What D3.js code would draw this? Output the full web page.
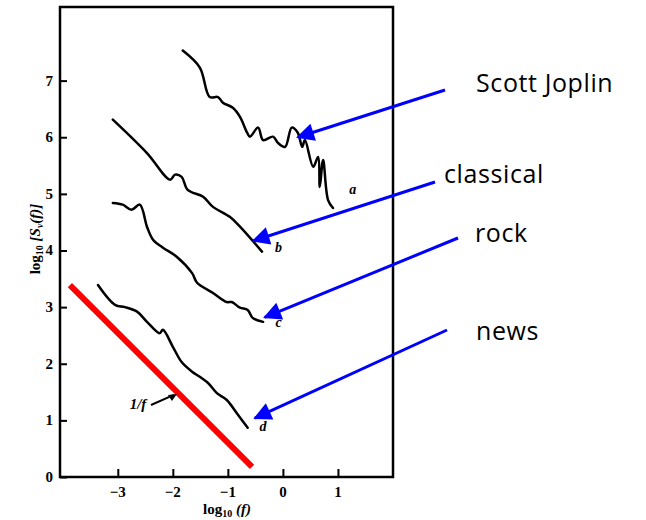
<!DOCTYPE html>
<html>
<head>
<meta charset="utf-8">
<script src="https://cdn.jsdelivr.net/npm/d3@7"></script>
<style>
  body { margin: 0; background: #fff; }
  svg { display: block; }
</style>
</head>
<body>
<div id="chart"></div>
<script>
// log10(f), log10(S(f))
const joplin = [[-1.82,7.53],[-1.51,7.23],[-1.33,6.71],[-1.18,6.71],[-1.09,6.61],[-0.91,6.52],[-0.78,6.36],[-0.65,6.08],[-0.60,6.01],[-0.45,6.17],[-0.36,5.95],[-0.18,6.01],[-0.09,5.90],[0.04,5.83],[0.16,6.17],[0.27,6.08],[0.35,5.83],[0.40,5.95],[0.55,5.48],[0.64,5.65],[0.67,5.12],[0.73,5.60],[0.82,4.89],[0.91,4.75]]
const classical = [[-3.09,6.31],[-2.47,5.72],[-2.05,5.25],[-1.96,5.34],[-1.84,5.30],[-1.73,5.07],[-1.45,4.95],[-1.27,4.77],[-0.96,4.59],[-0.78,4.42],[-0.38,3.98]]
const rock = [[-3.09,4.84],[-2.91,4.81],[-2.75,4.72],[-2.60,4.81],[-2.47,4.42],[-2.36,4.19],[-2.18,4.05],[-1.93,3.89],[-1.65,3.60],[-1.56,3.43],[-1.27,3.25],[-1.02,3.09],[-0.93,3.09],[-0.78,2.99],[-0.64,2.95],[-0.55,2.81],[-0.36,2.74]]
const news = [[-3.36,3.39],[-3.05,3.04],[-2.87,3.00],[-2.65,2.92],[-2.47,2.74],[-2.24,2.54],[-2.18,2.60],[-2.00,2.30],[-1.84,2.03],[-1.65,1.86],[-1.51,1.77],[-1.36,1.66],[-1.20,1.48],[-1.02,1.36],[-0.84,1.13],[-0.64,0.87]]
const oneOverF = [[-3.87,3.39],[-0.56,0.18]]

const xTicks = [-3, -2, -1, 0, 1]
const yTicks = [0, 1, 2, 3, 4, 5, 6, 7]
const curveLetters = ['a', 'b', 'c', 'd']
const curveLetterPos = [[1.27,5.0],[-0.08,3.98],[-0.08,2.65],[-0.36,0.82]]

// arrows: label text, arrow start (pixels near text) -> tip on curve (data coords)
const genres = ['Scott Joplin', 'classical', 'rock', 'news']
const genreTipData = [[0.27,6.0],[-0.54,4.17],[-0.33,2.82],[-0.51,1.04]]

const width = 646
const height = 520

const x = d3.scaleLinear().domain([-4.05, 2]).range([60, 393])
const y = d3.scaleLinear().domain([0, 8.3]).range([477, 7])

const svg = d3.select('#chart')
  .append('svg')
  .attr('width', width)
  .attr('height', height)

svg.append('defs').append('marker')
  .attr('id', 'head')
  .attr('viewBox', '0 0 10 10')
  .attr('refX', 9)
  .attr('refY', 5)
  .attr('markerWidth', 7)
  .attr('markerHeight', 6)
  .attr('markerUnits', 'strokeWidth')
  .attr('orient', 'auto')
  .append('path')
  .attr('d', 'M0,0 L10,5 L0,10 Z')
  .attr('fill', '#0000ff')

// frame
svg.append('rect')
  .attr('x', x.range()[0])
  .attr('y', y.range()[1])
  .attr('width', x.range()[1] - x.range()[0])
  .attr('height', y.range()[0] - y.range()[1])
  .attr('fill', 'none')
  .attr('stroke', '#000')
  .attr('stroke-width', 2.5)

const tickFont = '"Liberation Serif", serif'

const yAxis = svg.append('g')
  .attr('transform', `translate(${x.range()[0]},0)`)
  .call(d3.axisRight(y).tickValues(yTicks).tickSize(7).tickFormat(''))
yAxis.select('.domain').remove()
yAxis.selectAll('line').attr('stroke-width', 2)
svg.append('g').selectAll('text')
  .data(yTicks)
  .join('text')
  .attr('x', 53)
  .attr('y', d => y(d) + 5)
  .attr('text-anchor', 'end')
  .attr('font-family', tickFont)
  .attr('font-weight', 'bold')
  .attr('font-size', 15)
  .text(d => d)

const xAxis = svg.append('g')
  .attr('transform', `translate(0,${y.range()[0]})`)
  .call(d3.axisTop(x).tickValues(xTicks).tickSize(8).tickFormat(''))
xAxis.select('.domain').remove()
xAxis.selectAll('line').attr('stroke-width', 2)
svg.append('g').selectAll('text')
  .data(xTicks)
  .join('text')
  .attr('x', d => x(d))
  .attr('y', 497)
  .attr('text-anchor', 'middle')
  .attr('font-family', tickFont)
  .attr('font-weight', 'bold')
  .attr('font-size', 15)
  .text(d => d < 0 ? '\u2212' + Math.abs(d) : d)

// axis titles
const xTitle = svg.append('text')
  .attr('x', 227)
  .attr('y', 514)
  .attr('text-anchor', 'middle')
  .attr('font-family', tickFont)
  .attr('font-weight', 'bold')
  .attr('font-size', 15)
xTitle.append('tspan').text('log')
xTitle.append('tspan').attr('font-size', 10).attr('dy', 3).text('10')
xTitle.append('tspan').attr('dy', -3).attr('font-style', 'italic').text(' (f)')

const yTitle = svg.append('text')
  .attr('transform', 'translate(40,239) rotate(-90)')
  .attr('text-anchor', 'middle')
  .attr('font-family', tickFont)
  .attr('font-weight', 'bold')
  .attr('font-size', 15)
yTitle.append('tspan').text('log')
yTitle.append('tspan').attr('font-size', 10).attr('dy', 3).text('10')
yTitle.append('tspan').attr('dy', -3).attr('font-style', 'italic').text(' [S')
yTitle.append('tspan').attr('font-size', 10).attr('dy', 3).attr('font-style', 'italic').text('v')
yTitle.append('tspan').attr('dy', -3).attr('font-style', 'italic').text('(f)]')

const line = d3.line().x(d => x(d[0])).y(d => y(d[1])).curve(d3.curveCatmullRom)

svg.append('g').selectAll('path')
  .data([joplin, classical, rock, news])
  .join('path')
  .attr('d', line)
  .attr('fill', 'none')
  .attr('stroke', '#000')
  .attr('stroke-width', 2.5)
  .attr('stroke-linejoin', 'round')
  .attr('stroke-linecap', 'round')

svg.append('g').selectAll('text')
  .data(curveLetters)
  .join('text')
  .attr('x', (d, i) => x(curveLetterPos[i][0]))
  .attr('y', (d, i) => y(curveLetterPos[i][1]))
  .attr('text-anchor', 'middle')
  .attr('font-family', tickFont)
  .attr('font-weight', 'bold')
  .attr('font-style', 'italic')
  .attr('font-size', 14)
  .text(d => d)

// 1/f reference line
svg.append('path')
  .attr('d', d3.line().x(d => x(d[0])).y(d => y(d[1]))(oneOverF))
  .attr('stroke', '#ff0000')
  .attr('stroke-width', 6)
  .attr('fill', 'none')

svg.append('text')
  .attr('x', 138)
  .attr('y', 409)
  .attr('text-anchor', 'middle')
  .attr('font-family', tickFont)
  .attr('font-weight', 'bold')
  .attr('font-style', 'italic')
  .attr('font-size', 15)
  .text('1/f')
svg.append('line')
  .attr('x1', 151).attr('y1', 405)
  .attr('x2', x(-1.98)).attr('y2', y(1.45))
  .attr('stroke', '#000')
  .attr('stroke-width', 2)
svg.append('path')
  .attr('d', `M${x(-1.98) + 3},${y(1.45) - 1} l-9,1 l4,6 Z`)
  .attr('fill', '#000')

// labels and blue arrows
const labelPos = [[476, 92], [444, 183], [475, 242], [476, 340]]
const arrowStart = [[445, 90], [435, 182], [458, 238], [447, 330]]

svg.append('g').selectAll('line')
  .data(genres)
  .join('line')
  .attr('x1', (d, i) => arrowStart[i][0])
  .attr('y1', (d, i) => arrowStart[i][1])
  .attr('x2', (d, i) => x(genreTipData[i][0]))
  .attr('y2', (d, i) => y(genreTipData[i][1]))
  .attr('stroke', '#0000ff')
  .attr('stroke-width', 3)
  .attr('marker-end', 'url(#head)')

svg.append('g').selectAll('text')
  .data(genres)
  .join('text')
  .attr('x', (d, i) => labelPos[i][0])
  .attr('y', (d, i) => labelPos[i][1])
  .attr('font-family', '"Open Sans", sans-serif')
  .attr('font-size', 25)
  .attr('letter-spacing', 0.6)
  .attr('fill', '#000')
  .text(d => d)
</script>
</body>
</html>
